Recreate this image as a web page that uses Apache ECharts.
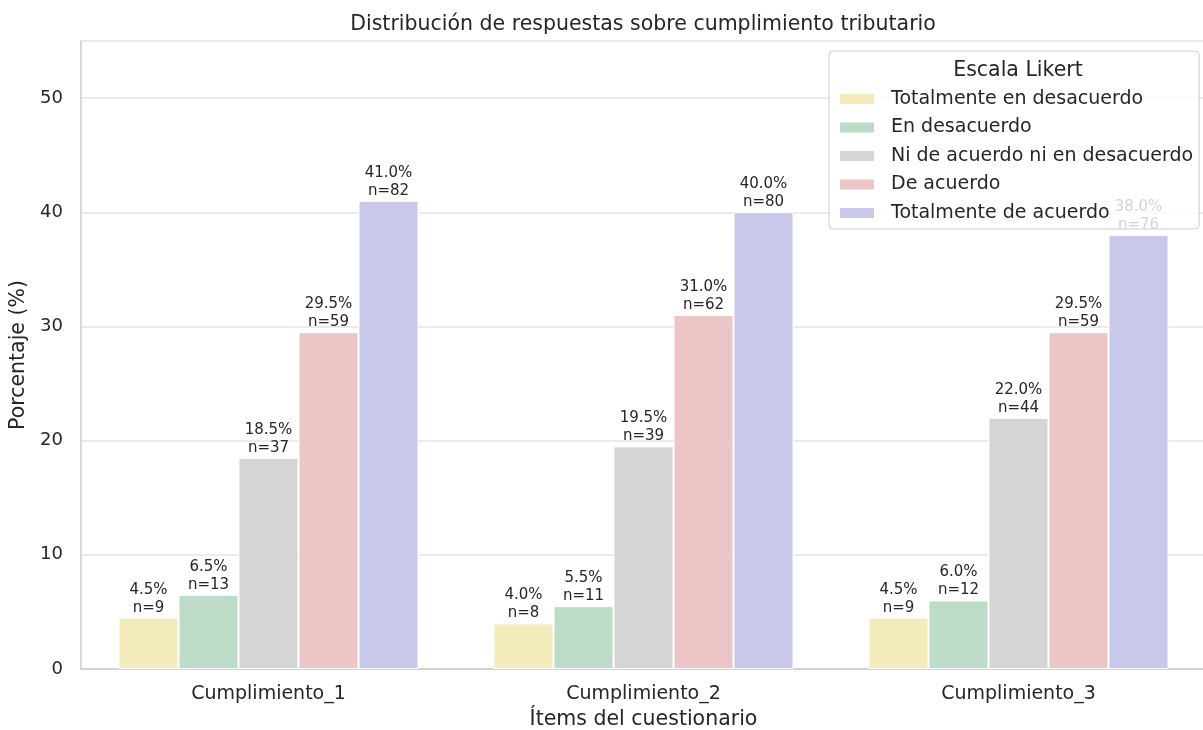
<!DOCTYPE html>
<html>
<head>
<meta charset="utf-8">
<script src="https://cdn.jsdelivr.net/npm/echarts@6/dist/echarts.min.js"></script>
<style>
  html, body { margin: 0; padding: 0; background: #fff; }
  #main { width: 1203px; height: 730px; }
</style>
</head>
<body>
<div id="main"></div>
<script>
// categories on x axis
const items = ['Cumplimiento_1', 'Cumplimiento_2', 'Cumplimiento_3'];
// likert levels
const levels = ['Totalmente en desacuerdo', 'En desacuerdo', 'Ni de acuerdo ni en desacuerdo', 'De acuerdo', 'Totalmente de acuerdo'];
const colors = ['#f3ebb9', '#bcdcc8', '#d5d5d5', '#edc5c6', '#c8c8ea'];
// percentages per level (one value per item)
const pctTotDes = [4.5, 4.0, 4.5];
const pctDes = [6.5, 5.5, 6.0];
const pctNeutral = [18.5, 19.5, 22.0];
const pctAcuerdo = [29.5, 31.0, 29.5];
const pctTotAc = [41.0, 40.0, 38.0];
// counts per level
const nTotDes = [9, 8, 9];
const nDes = [13, 11, 12];
const nNeutral = [37, 39, 44];
const nAcuerdo = [59, 62, 59];
const nTotAc = [82, 80, 76];

const yTicks = [0, 10, 20, 30, 40, 50];

const pcts = [pctTotDes, pctDes, pctNeutral, pctAcuerdo, pctTotAc];
const counts = [nTotDes, nDes, nNeutral, nAcuerdo, nTotAc];

const font = 'DejaVu Sans';
const txt = '#262626';

var chart = echarts.init(document.getElementById('main'));

var series = levels.map(function (name, i) {
  return {
    name: name,
    type: 'bar',
    data: pcts[i],
    barGap: '0%',
    barCategoryGap: '20%',
    itemStyle: {
      color: colors[i],
      borderColor: '#ffffff',
      borderWidth: 1
    },
    label: {
      show: true,
      position: 'top',
      distance: 1,
      fontFamily: font,
      fontSize: 15,
      lineHeight: 18,
      color: txt,
      formatter: function (p) {
        return p.value.toFixed(1) + '%\nn=' + counts[i][p.dataIndex];
      }
    }
  };
});

var option = {
  animation: false,
  textStyle: { fontFamily: font },
  title: [{
    text: 'Distribución de respuestas sobre cumplimiento tributario',
    left: 638,
    top: 9,
    textAlign: 'center',
    textStyle: { fontFamily: font, fontSize: 20.5, fontWeight: 'normal', color: txt }
  }, {
    text: 'Escala Likert',
    left: 1013,
    top: 55,
    textAlign: 'center',
    textStyle: { fontFamily: font, fontSize: 20.5, fontWeight: 'normal', color: txt },
    z: 10
  }],
  legend: {
    data: levels,
    orient: 'vertical',
    left: 829,
    top: 51,
    padding: [38, 6, 6, 9],
    itemWidth: 36,
    itemHeight: 12,
    itemGap: 8.5,
    icon: 'rect',
    backgroundColor: 'rgba(255,255,255,0.8)',
    borderColor: '#cccccc',
    borderWidth: 1,
    borderRadius: 4,
    textStyle: {
      fontFamily: font,
      fontSize: 19,
      lineHeight: 20,
      color: txt,
      padding: [0, 0, 0, 11]
    }
  },
  grid: {
    left: 81,
    top: 41,
    width: 1125,
    bottom: 61,
    containLabel: false,
    outerBoundsMode: 'none'
  },
  xAxis: {
    type: 'category',
    data: items,
    name: 'Ítems del cuestionario',
    nameLocation: 'middle',
    nameGap: 40,
    nameTextStyle: { fontFamily: font, fontSize: 20.5, color: txt },
    axisLine: { lineStyle: { color: '#cccccc', width: 1.5 } },
    axisTick: { show: false },
    axisLabel: { fontFamily: font, fontSize: 19, color: txt, margin: 16 },
    splitLine: { show: false }
  },
  yAxis: {
    type: 'value',
    min: 0,
    max: 55,
    interval: 10,
    name: 'Porcentaje (%)',
    nameLocation: 'middle',
    nameGap: 43,
    nameTextStyle: { fontFamily: font, fontSize: 20.5, color: txt },
    axisLine: { show: true, lineStyle: { color: '#cccccc', width: 1.5 } },
    axisTick: { show: false },
    axisLabel: {
      fontFamily: font, fontSize: 18, color: txt, margin: 18,
      formatter: function (v) { return yTicks.indexOf(v) >= 0 ? String(v) : ''; }
    },
    splitLine: { show: true, lineStyle: { color: '#e5e5e5', width: 1.5 } }
  },
  series: series
};

chart.setOption(option);
</script>
</body>
</html>
